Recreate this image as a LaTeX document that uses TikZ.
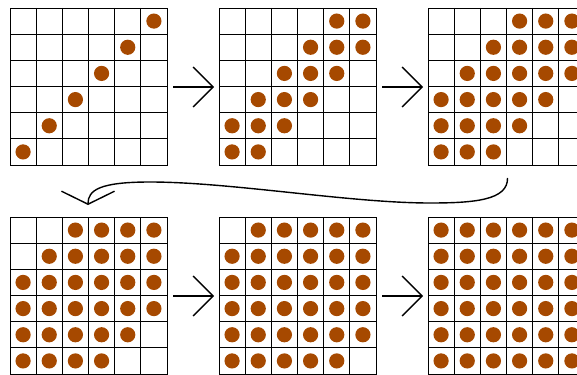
\documentclass[tikz,border=0pt]{standalone}
\usetikzlibrary{arrows.meta}
\definecolor{dotc}{RGB}{166,73,0}
\tikzset{
  gridbox/.style={draw=black, line width=0.9pt, minimum width=157pt, minimum height=157pt, inner sep=0pt, outer sep=0pt},
  cellline/.style={draw=black, line width=0.9pt},
  ball/.style={fill=dotc},
  flow/.style={line width=1.4pt, -{Straight Barb[length=20pt,width=40pt,line width=1.4pt]}},
  backflow/.style={line width=1.4pt, -{Straight Barb[length=13pt,width=53pt,line width=1.4pt]}}
}
\begin{document}
\begin{tikzpicture}[x=1pt,y=-1pt]
\useasboundingbox (0,0) rectangle (577,374);
% grids: name / left x / top y / band k (dots where |c-r|<=k)
\foreach \n/\gx/\gy/\k in {g1/10/8/0, g2/219/8/1, g3/428/8/2, g4/10/217/3, g5/219/217/4, g6/428/217/5}{
  \node[gridbox, anchor=north west] (\n) at (\gx,\gy) {};
  \foreach \i in {1,...,5}{
    \draw[cellline] (\gx+\i*26.1667,\gy) -- (\gx+\i*26.1667,\gy+157);
    \draw[cellline] (\gx,\gy+\i*26.1667) -- (\gx+157,\gy+\i*26.1667);
  }
  \foreach \c in {0,...,5}{
    \foreach \r in {0,...,5}{
      \pgfmathtruncatemacro{\d}{abs(\c-\r)}
      \ifnum\d>\k\relax\else
        \fill[ball] (\gx+\c*26.1667+13.08,\gy+157-\r*26.1667-13.08) circle (7.6);
      \fi
    }
  }
}
\draw[flow, shorten <=6pt, shorten >=5pt] (g1.east |- 0,87) -- (g2.west |- 0,87);
\draw[flow, shorten <=6pt, shorten >=5pt] (g2.east |- 0,87) -- (g3.west |- 0,87);
\draw[flow, shorten <=6pt, shorten >=5pt] (g4.east |- 0,296) -- (g5.west |- 0,296);
\draw[flow, shorten <=6pt, shorten >=5pt] (g5.east |- 0,296) -- (g6.west |- 0,296);
\coordinate (cs) at (507.5,178);
\coordinate (ce) at (88,205);
\draw[backflow] (cs) .. controls (508,200) and (475,203) .. (430,203)
  .. controls (350,203) and (230,182) .. (150,182)
  .. controls (100,182) and (88,190) .. (ce);
\end{tikzpicture}
\end{document}
